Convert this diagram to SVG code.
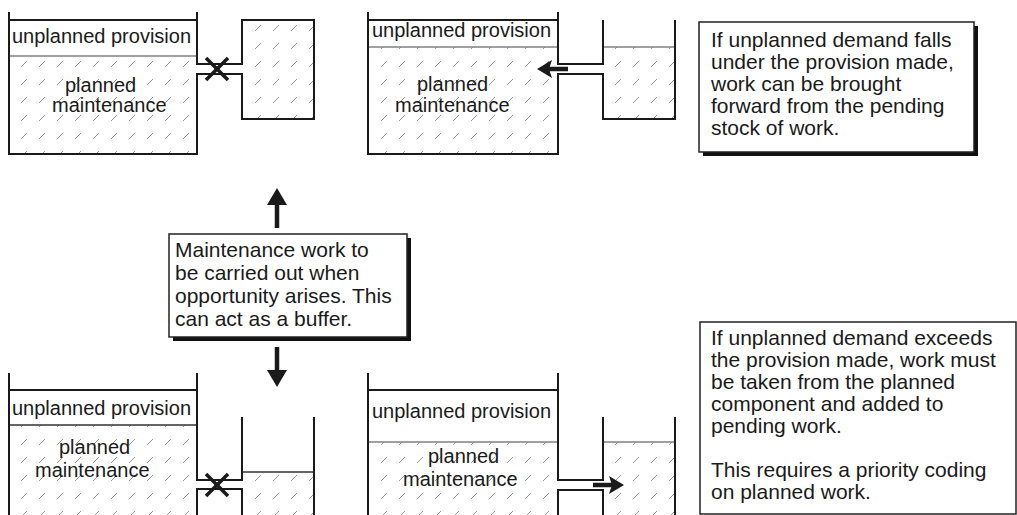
<svg xmlns="http://www.w3.org/2000/svg" width="1017" height="515" viewBox="0 0 1017 515">
<style>
.wall{fill:none;stroke:#1a1a1a;stroke-width:2}
.top{stroke:#1a1a1a;stroke-width:2}
.lvl{stroke:#808080;stroke-width:1.5}
.lvld{stroke:#333;stroke-width:1.5}
.hatch{fill:url(#hatch)}
.t{font-family:"Liberation Sans",Arial,sans-serif;font-size:20px;fill:#1a1a1a}
.bt{font-family:"Liberation Sans",Arial,sans-serif;font-size:21px;fill:#1a1a1a}
.box{fill:#fff;stroke:#222;stroke-width:1.5}
.shadow{fill:#111}
.cross{stroke:#1a1a1a;stroke-width:3.5}
.shaft{stroke:#1a1a1a;stroke-width:4.5}
.head{fill:#1a1a1a}
</style>
<defs>
<pattern id="hatch" width="18" height="18" patternUnits="userSpaceOnUse">
<line x1="3" y1="13" x2="9" y2="7" stroke="#999" stroke-width="1"/>
</pattern>
</defs>
<rect width="1017" height="515" fill="#fff"/>

<g id="tank-top-left">
<rect class="hatch" x="9" y="56" width="188" height="98"/>
<rect class="hatch" x="242" y="20" width="72" height="99"/>
<line class="lvl" x1="9" y1="56" x2="197" y2="56"/>
<line class="top" x1="9" y1="20" x2="197" y2="20"/>
<path class="wall" d="M9,12 V154 H197 V74 H242 V119 H314 V20 H242 V64 H197 V12"/>
<line class="cross" x1="206" y1="58" x2="228" y2="80"/>
<line class="cross" x1="206" y1="80" x2="228" y2="58"/>
<text class="t" x="12" y="43">unplanned provision</text>
<text class="t" x="65" y="92">planned</text>
<text class="t" x="52" y="112">maintenance</text>
</g>

<g id="tank-top-middle">
<rect class="hatch" x="368" y="47" width="190" height="107"/>
<rect class="hatch" x="603" y="47" width="72" height="72"/>
<line class="lvl" x1="368" y1="47" x2="558" y2="47"/>
<line class="lvl" x1="603" y1="47" x2="675" y2="47"/>
<line class="top" x1="368" y1="20" x2="558" y2="20"/>
<path class="wall" d="M368,12 V154 H558 V74 H603 V119 H675 V20 M603,20 V64 H558 V12"/>
<line class="shaft" x1="568" y1="69" x2="548" y2="69"/>
<polygon class="head" points="537,69 552,60 549,69 552,78"/>
<text class="t" x="372" y="37">unplanned provision</text>
<text class="t" x="417" y="91">planned</text>
<text class="t" x="395" y="112">maintenance</text>
</g>

<g id="box-top-right">
<rect class="shadow" x="703" y="26" width="275" height="130"/>
<rect class="box" x="699" y="22" width="275" height="130"/>
<text class="bt" x="711" y="47">If unplanned demand falls</text>
<text class="bt" x="711" y="69">under the provision made,</text>
<text class="bt" x="711" y="91">work can be brought</text>
<text class="bt" x="711" y="113">forward from the pending</text>
<text class="bt" x="711" y="135">stock of work.</text>
</g>

<g id="box-middle">
<rect class="shadow" x="173" y="238" width="238" height="103"/>
<rect class="box" x="169" y="234" width="238" height="103"/>
<text class="bt" x="175" y="257">Maintenance work to</text>
<text class="bt" x="175" y="280">be carried out when</text>
<text class="bt" x="175" y="303">opportunity arises. This</text>
<text class="bt" x="175" y="326">can act as a buffer.</text>
</g>

<g id="connectors">
<line class="shaft" x1="277" y1="200" x2="277" y2="228"/>
<polygon class="head" points="267,205 277,188 287,205"/>
<line class="shaft" x1="277" y1="347" x2="277" y2="373"/>
<polygon class="head" points="267,370 277,387 287,370"/>
</g>

<g id="tank-bottom-left">
<rect class="hatch" x="9" y="425" width="188" height="90"/>
<rect class="hatch" x="242" y="472" width="72" height="43"/>
<line class="lvld" x1="9" y1="425" x2="197" y2="425"/>
<line class="lvld" x1="242" y1="472" x2="314" y2="472"/>
<line class="top" x1="9" y1="390" x2="197" y2="390"/>
<path class="wall" d="M9,373 V515 M197,373 V480 H242 V417 M197,515 V489 H242 V515 M314,417 V515"/>
<line class="cross" x1="206" y1="474" x2="228" y2="496"/>
<line class="cross" x1="206" y1="496" x2="228" y2="474"/>
<text class="t" x="12" y="415">unplanned provision</text>
<text class="t" x="59" y="454">planned</text>
<text class="t" x="35" y="477">maintenance</text>
</g>

<g id="tank-bottom-middle">
<rect class="hatch" x="368" y="442" width="190" height="73"/>
<rect class="hatch" x="603" y="442" width="72" height="73"/>
<line class="lvl" x1="368" y1="442" x2="558" y2="442"/>
<line class="lvl" x1="603" y1="442" x2="675" y2="442"/>
<line class="top" x1="368" y1="390" x2="558" y2="390"/>
<path class="wall" d="M368,373 V515 M558,373 V480 H603 V417 M558,515 V490 H603 V515 M675,417 V515"/>
<line class="shaft" x1="593" y1="485" x2="613" y2="485"/>
<polygon class="head" points="624,485 609,476 612,485 609,494"/>
<text class="t" x="372" y="418">unplanned provision</text>
<text class="t" x="428" y="463">planned</text>
<text class="t" x="403" y="486">maintenance</text>
</g>

<g id="box-bottom-right">
<rect class="box" x="700" y="322" width="316" height="192"/>
<text class="bt" x="711" y="345">If unplanned demand exceeds</text>
<text class="bt" x="711" y="367">the provision made, work must</text>
<text class="bt" x="711" y="389">be taken from the planned</text>
<text class="bt" x="711" y="411">component and added to</text>
<text class="bt" x="711" y="433">pending work.</text>
<text class="bt" x="711" y="477">This requires a priority coding</text>
<text class="bt" x="711" y="499">on planned work.</text>
</g>
</svg>
